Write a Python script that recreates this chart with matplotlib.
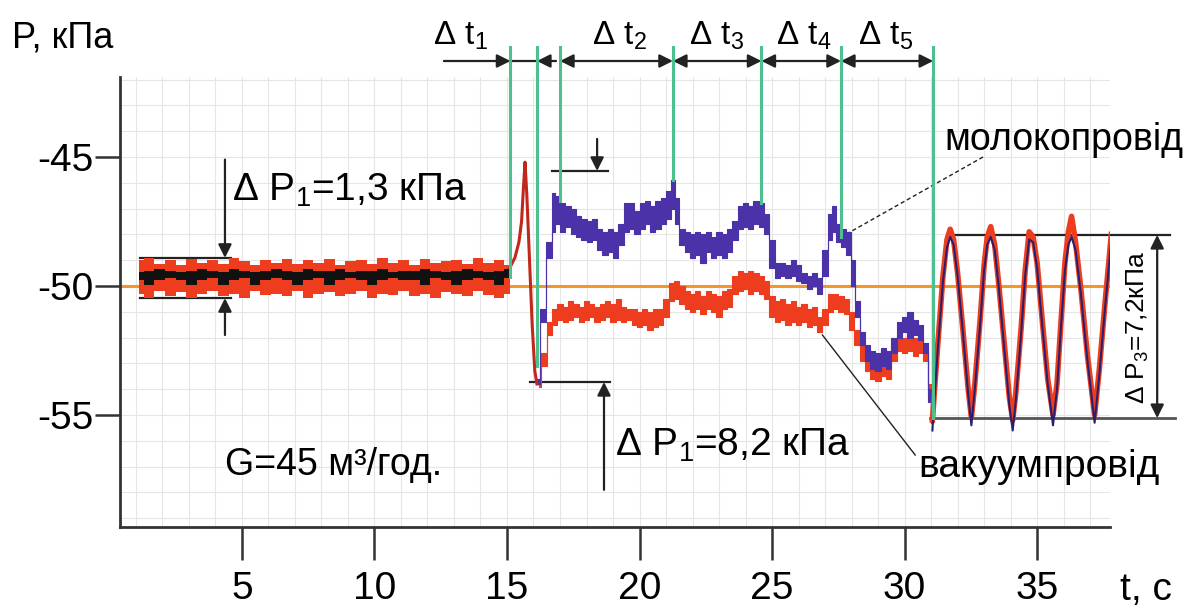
import matplotlib
matplotlib.use('Agg')
import matplotlib.pyplot as plt
import numpy as np

plt.rcParams['font.family'] = ['Liberation Sans', 'DejaVu Sans']
plt.rcParams['mathtext.default'] = 'regular'
plt.rcParams['axes.unicode_minus'] = False

# ---- data ----
# steady part, 1..15 s
t1 = [1.1, 1.5, 1.9, 2.3, 2.7, 3.1, 3.5, 3.9, 4.3, 4.7, 5.1, 5.5, 5.9, 6.3, 6.7, 7.1, 7.5, 7.9,
      8.3, 8.7, 9.1, 9.5, 9.9, 10.3, 10.7, 11.1, 11.5, 11.9, 12.3, 12.7, 13.1, 13.5, 13.9, 14.3, 14.7, 15.1]
red1_hi = [-49.0, -48.9, -49.15, -49.0, -49.2, -48.95, -49.1, -49.0, -49.15, -48.9, -49.05, -49.2, -49.0,
           -49.1, -48.95, -49.15, -49.0, -49.1, -48.95, -49.2, -49.05, -49.0, -49.15, -48.9, -49.1, -49.0,
           -49.2, -48.95, -49.1, -49.05, -49.0, -49.15, -48.9, -49.1, -49.0, -49.2]
red1_lo = [-50.3, -50.45, -50.2, -50.4, -50.25, -50.45, -50.3, -50.2, -50.4, -50.3, -50.45, -50.2,
           -50.35, -50.3, -50.4, -50.2, -50.45, -50.3, -50.25, -50.4, -50.3, -50.2, -50.45, -50.3,
           -50.35, -50.2, -50.4, -50.3, -50.45, -50.25, -50.3, -50.4, -50.2, -50.35, -50.45, -50.3]
blk1_hi = [-49.45, -49.4, -49.35, -49.4, -49.45, -49.4, -49.35, -49.4, -49.45, -49.35, -49.4, -49.45,
           -49.4, -49.35, -49.4, -49.45, -49.35, -49.4, -49.4, -49.35, -49.45, -49.4, -49.4, -49.35,
           -49.45, -49.4, -49.4, -49.35, -49.4, -49.45, -49.4, -49.35, -49.4, -49.45, -49.4, -49.35]
blk1_lo = [-49.75, -49.95, -49.75, -49.7, -49.75, -49.95, -49.75, -49.7, -49.95, -49.75, -49.7, -49.95,
           -49.75, -49.7, -49.75, -49.95, -49.75, -49.7, -49.95, -49.75, -49.7, -49.75, -49.95, -49.75,
           -49.7, -49.75, -49.75, -49.95, -49.7, -49.75, -49.95, -49.75, -49.7, -49.75, -49.95, -49.7]

# common spike at the switch
t_sw = [15.1, 15.3, 15.45, 15.55, 15.62, 15.68, 15.75, 15.85, 15.95, 16.05, 16.13]
p_sw = [-49.3, -48.9, -48.3, -47.5, -46.2, -45.2, -46.5, -49.0, -51.5, -53.3, -53.8]

# milk line (blue)
tb = [16.13, 16.36, 16.62, 16.75, 16.9, 17.1, 17.3, 17.5, 17.7, 17.9, 18.1, 18.3, 18.5, 18.7, 18.9,
      19.1, 19.3, 19.5, 19.7, 19.9, 20.1, 20.3, 20.5, 20.7, 20.9, 21.1, 21.25, 21.4, 21.6, 21.8, 22.0,
      22.2, 22.4, 22.6, 22.8, 23.0, 23.2, 23.4, 23.6, 23.8, 24.0, 24.2, 24.4, 24.6, 24.8, 25.0, 25.2,
      25.4, 25.6, 25.8, 26.0, 26.2, 26.4, 26.6, 26.8, 27.0, 27.2, 27.35, 27.5, 27.7, 27.9, 28.05, 28.2,
      28.4, 28.6, 28.8, 29.0, 29.2, 29.4, 29.6, 29.8, 30.0, 30.2, 30.4, 30.6, 30.8, 30.95, 31.05]
blue_lo = [-53.8, -51.4, -48.9, -47.9, -47.6, -47.9, -47.7, -48.0, -48.1, -48.2, -48.3, -48.2, -48.6,
           -48.8, -48.7, -48.9, -48.4, -47.9, -47.8, -48.0, -47.8, -47.6, -47.9, -47.8, -47.6, -47.4,
           -47.0, -47.6, -48.4, -48.7, -48.9, -48.8, -49.1, -48.7, -48.9, -48.8, -48.9, -48.7, -48.2,
           -47.8, -47.7, -47.8, -47.6, -47.7, -48.0, -49.3, -49.7, -49.6, -49.7, -49.6, -49.8, -49.9,
           -50.1, -50.0, -50.3, -49.6, -48.2, -47.9, -48.3, -48.5, -48.8, -50.0, -51.2, -52.3, -52.9,
           -53.2, -53.3, -53.1, -53.2, -52.6, -52.0, -51.8, -52.0, -51.9, -52.1, -52.6, -54.5, -55.3]
blue_hi = [-53.6, -50.9, -48.3, -46.4, -46.5, -46.8, -46.9, -47.0, -47.3, -47.4, -47.5, -47.4, -47.8,
           -47.9, -47.8, -47.9, -47.6, -46.8, -46.8, -47.1, -46.8, -46.7, -46.9, -46.7, -46.6, -46.3,
           -45.9, -46.6, -47.8, -47.9, -48.0, -47.9, -48.0, -47.9, -48.1, -47.9, -48.0, -47.8, -47.5,
           -46.9, -46.8, -46.9, -46.7, -46.8, -47.2, -48.2, -49.1, -49.1, -49.2, -49.0, -49.2, -49.5,
           -49.6, -49.5, -49.7, -48.6, -47.2, -46.9, -47.6, -47.8, -47.9, -49.0, -50.6, -51.8, -52.3,
           -52.5, -52.6, -52.4, -52.5, -52.0, -51.4, -51.2, -51.0, -51.3, -51.5, -52.2, -54.0, -55.0]

# vacuum line (red)
tr = [16.2, 16.4, 16.6, 16.8, 17.0, 17.2, 17.4, 17.6, 17.8, 18.0, 18.2, 18.4, 18.6, 18.8, 19.0, 19.2,
      19.4, 19.6, 19.8, 20.0, 20.2, 20.4, 20.6, 20.8, 21.0, 21.2, 21.4, 21.6, 21.8, 22.0, 22.2, 22.4,
      22.6, 22.8, 23.0, 23.2, 23.4, 23.6, 23.8, 24.0, 24.2, 24.4, 24.6, 24.8, 25.0, 25.2, 25.4, 25.6,
      25.8, 26.0, 26.2, 26.4, 26.6, 26.8, 27.0, 27.2, 27.4, 27.6, 27.8, 28.0, 28.2, 28.4, 28.6, 28.8,
      29.0, 29.2, 29.4, 29.6, 29.8, 30.0, 30.2, 30.4, 30.6, 30.8, 30.95, 31.1]
red_lo = [-53.9, -53.1, -51.9, -51.5, -51.3, -51.4, -51.3, -51.2, -51.4, -51.3, -51.2, -51.4, -51.3,
          -51.2, -51.4, -51.3, -51.4, -51.3, -51.5, -51.6, -51.5, -51.7, -51.6, -51.5, -51.2, -50.6,
          -50.5, -50.7, -50.9, -51.0, -50.9, -51.1, -50.9, -51.0, -51.2, -50.9, -50.8, -50.3, -50.2,
          -50.1, -50.3, -50.2, -50.3, -50.5, -51.2, -51.4, -51.3, -51.5, -51.4, -51.5, -51.4, -51.6,
          -51.5, -51.8, -51.5, -51.0, -50.9, -51.0, -51.1, -51.7, -52.3, -52.9, -53.3, -53.6, -53.7,
          -53.5, -53.6, -52.9, -52.5, -52.6, -52.5, -52.7, -52.6, -52.9, -54.2, -55.2]
red_hi = [-53.6, -52.6, -51.4, -50.9, -50.7, -50.8, -50.6, -50.7, -50.8, -50.6, -50.7, -50.8, -50.7,
          -50.6, -50.7, -50.5, -50.8, -50.9, -50.9, -51.0, -50.9, -51.0, -50.9, -50.9, -50.5, -49.9,
          -49.8, -50.0, -50.2, -50.3, -50.2, -50.4, -50.2, -50.3, -50.4, -50.2, -50.1, -49.6, -49.4,
          -49.5, -49.4, -49.5, -49.6, -49.8, -50.4, -50.6, -50.5, -50.7, -50.6, -50.8, -50.7, -50.9,
          -50.8, -51.2, -50.9, -50.3, -50.3, -50.4, -50.5, -51.0, -51.7, -52.3, -52.7, -52.8, -52.9,
          -52.8, -52.9, -52.3, -51.9, -52.0, -51.9, -52.0, -52.0, -52.4, -53.8, -54.9]

# pulsation part, 31..38 s
ts = [31.05, 31.25, 31.45, 31.6, 31.72, 31.85, 32.0, 32.2, 32.4, 32.52, 32.65, 32.85, 33.0, 33.12,
      33.25, 33.4, 33.55, 33.75, 33.95, 34.08, 34.2, 34.4, 34.55, 34.7, 34.85, 35.0, 35.2, 35.4, 35.6,
      35.75, 35.9, 36.05, 36.18, 36.3, 36.45, 36.65, 36.9, 37.17, 37.35, 37.55, 37.8]
blue_s = [-55.6, -52.5, -49.8, -48.5, -48.1, -48.4, -49.6, -51.8, -54.2, -55.4, -54.0, -51.5, -49.4,
          -48.4, -48.1, -48.6, -50.0, -52.3, -54.6, -55.6, -54.4, -51.8, -49.6, -48.2, -48.3, -49.3,
          -51.6, -53.8, -55.4, -54.0, -51.6, -49.4, -48.4, -48.1, -48.6, -50.3, -52.9, -55.3, -53.4,
          -51.0, -48.2]
red_s = [-55.2, -52.3, -49.6, -48.2, -47.8, -48.2, -49.5, -51.7, -54.0, -55.1, -53.8, -51.3, -49.2,
         -48.1, -47.7, -48.4, -49.9, -52.1, -54.3, -55.2, -54.1, -51.6, -49.4, -47.9, -48.1, -49.1,
         -51.4, -53.6, -55.0, -53.8, -51.4, -49.1, -47.9, -47.3, -48.3, -50.1, -52.7, -55.0, -53.2,
         -50.8, -48.0]

# interval borders (green) and where each one stops on the curve
t_bounds = [15.13, 16.13, 17.0, 21.26, 24.6, 27.6, 31.08]
p_bounds = [-49.65, -53.1, -46.7, -45.9, -46.8, -48.1, -55.1]
dt_labels = ['Δ $t_1$', 'Δ $t_2$', 'Δ $t_3$', 'Δ $t_4$', 'Δ $t_5$']
dt_label_t = [13.26, 19.26, 22.9, 26.2, 29.3]

xticks = [5, 10, 15, 20, 25, 30, 35]
yticks = [-45, -50, -55]

blue = '#4b32a8'
red = '#ee3d1e'
green = '#4cc08f'
orange = '#f5962a'
dark = '#222222'

fig = plt.figure(figsize=(11.94, 6.10), dpi=100)
ax = fig.add_axes([120 / 1194, 83 / 610, 990 / 1194, 450 / 610])
ax.set_xlim(0.4, 37.75)
ax.set_ylim(-59.34, -41.9)

# grid
ax.set_xticks(np.arange(1, 38), minor=True)
ax.set_yticks(np.arange(-59, -41), minor=True)
ax.grid(which='both', color='#e6e6e6', lw=0.8)
ax.set_axisbelow(True)
ax.tick_params(which='minor', length=0)

ax.set_xticks(xticks)
ax.set_yticks(yticks)
ax.set_xticklabels([str(v) for v in xticks], fontsize=28)
ax.set_yticklabels([str(v) for v in yticks], fontsize=28)
ax.tick_params(axis='y', which='major', length=18, width=1.8, color='#333333', pad=1)
ax.tick_params(axis='x', which='major', length=24, width=1.8, color='#333333', pad=8)
for s in ['top', 'right']:
    ax.spines[s].set_visible(False)
for s in ['left', 'bottom']:
    ax.spines[s].set_linewidth(2)
    ax.spines[s].set_color('#333333')

# reference level
ax.axhline(-50, xmin=0, xmax=1, color=orange, lw=2.2, zorder=2)

# steady part
ax.fill_between(t1, red1_lo, red1_hi, step='mid', color=red, lw=0, zorder=3)
ax.fill_between(t1, blk1_lo, blk1_hi, step='mid', color='#111111', lw=0, zorder=4)

# transients
ax.fill_between(tr, red_lo, red_hi, step='mid', color=red, lw=0.8, edgecolor=red, zorder=3)
ax.fill_between(tb, blue_lo, blue_hi, step='mid', color=blue, lw=0.8, edgecolor=blue, zorder=4)
ax.plot(t_sw, p_sw, color='#c0281c', lw=2.2, zorder=5)

# pulsation part
ax.plot(ts, red_s, color=red, lw=4, zorder=4)
ax.plot(ts, blue_s, color='#2a1f6e', lw=1.5, zorder=5)

# green borders with the interval arrows
for t, p in zip(t_bounds, p_bounds):
    ax.plot([t, t], [p, -40.74], color=green, lw=2.2, clip_on=False, zorder=6)

arr = dict(arrowstyle='-|>', color=dark, lw=1.6, mutation_scale=20, shrinkA=0, shrinkB=0)
arr2 = dict(arrowstyle='<|-|>', color=dark, lw=1.6, mutation_scale=20, shrinkA=0, shrinkB=0)
ya = -41.28
ax.annotate('', xy=(t_bounds[0], ya), xytext=(12.62, ya), arrowprops=arr, annotation_clip=False)
ax.plot([t_bounds[0], t_bounds[1]], [ya, ya], color=dark, lw=1.6, clip_on=False)
ax.annotate('', xy=(t_bounds[1], ya), xytext=(16.85, ya), arrowprops=arr, annotation_clip=False)
for a, b in zip(t_bounds[2:-1], t_bounds[3:]):
    ax.annotate('', xy=(b, ya), xytext=(a, ya), arrowprops=arr2, annotation_clip=False)
for lab, t in zip(dt_labels, dt_label_t):
    ax.text(t, -40.3, lab, fontsize=24, ha='center', va='center', clip_on=False)

# dP1 = 1,3 kPa
ax.plot([1.15, 4.6], [-48.91, -48.91], color=dark, lw=1.6)
ax.plot([1.15, 4.6], [-50.47, -50.47], color=dark, lw=1.6)
ax.annotate('', xy=(4.36, -48.91), xytext=(4.36, -45.1), arrowprops=arr)
ax.annotate('', xy=(4.36, -50.47), xytext=(4.36, -51.9), arrowprops=arr)
ax.text(4.62, -46.3, 'Δ $P_1$=1,3 кПа', fontsize=28, va='center')

# dP1 = 8,2 kPa
ax.plot([16.7, 18.8], [-45.54, -45.54], color=dark, lw=1.6)
ax.annotate('', xy=(18.4, -45.54), xytext=(18.4, -44.3), arrowprops=arr)
ax.plot([15.87, 18.9], [-53.72, -53.72], color=dark, lw=1.6)
ax.annotate('', xy=(18.66, -53.72), xytext=(18.66, -57.9), arrowprops=arr)
ax.text(19.07, -56.16, 'Δ $P_1$=8,2 кПа', fontsize=28, va='center')

ax.text(4.36, -56.94, 'G=45 м³/год.', fontsize=27, va='center')

# dP3 = 7,2 kPa
ax.plot([31.7, 40.0], [-48.02, -48.02], color=dark, lw=1.6, clip_on=False)
ax.plot([30.96, 40.2], [-55.12, -55.12], color='#555555', lw=2, clip_on=False)
ax.annotate('', xy=(39.53, -55.12), xytext=(39.53, -48.02), arrowprops=arr2, annotation_clip=False)
ax.text(38.8, -51.6, 'Δ $P_3$=7,2кПа', fontsize=19, rotation=90, ha='center', va='center', clip_on=False)

# curve names
ax.plot([32.96, 27.75], [-45.0, -48.02], color=dark, lw=1, ls=(0, (3, 2)), clip_on=False)
ax.text(31.5, -44.34, 'молокопровід', fontsize=27, va='center', clip_on=False)
ax.plot([26.9, 30.4], [-51.9, -56.55], color=dark, lw=1, clip_on=False)
ax.text(30.5, -57.0, 'вакуумпровід', fontsize=28, va='center', clip_on=False)

# axis names
fig.text(12 / 1194, 1 - 38 / 610, 'P, кПа', fontsize=26, va='center')
ax.text(39.1, -61.8, 't, c', fontsize=28, ha='center', va='center', clip_on=False)

fig.savefig('out.png', dpi=100)
